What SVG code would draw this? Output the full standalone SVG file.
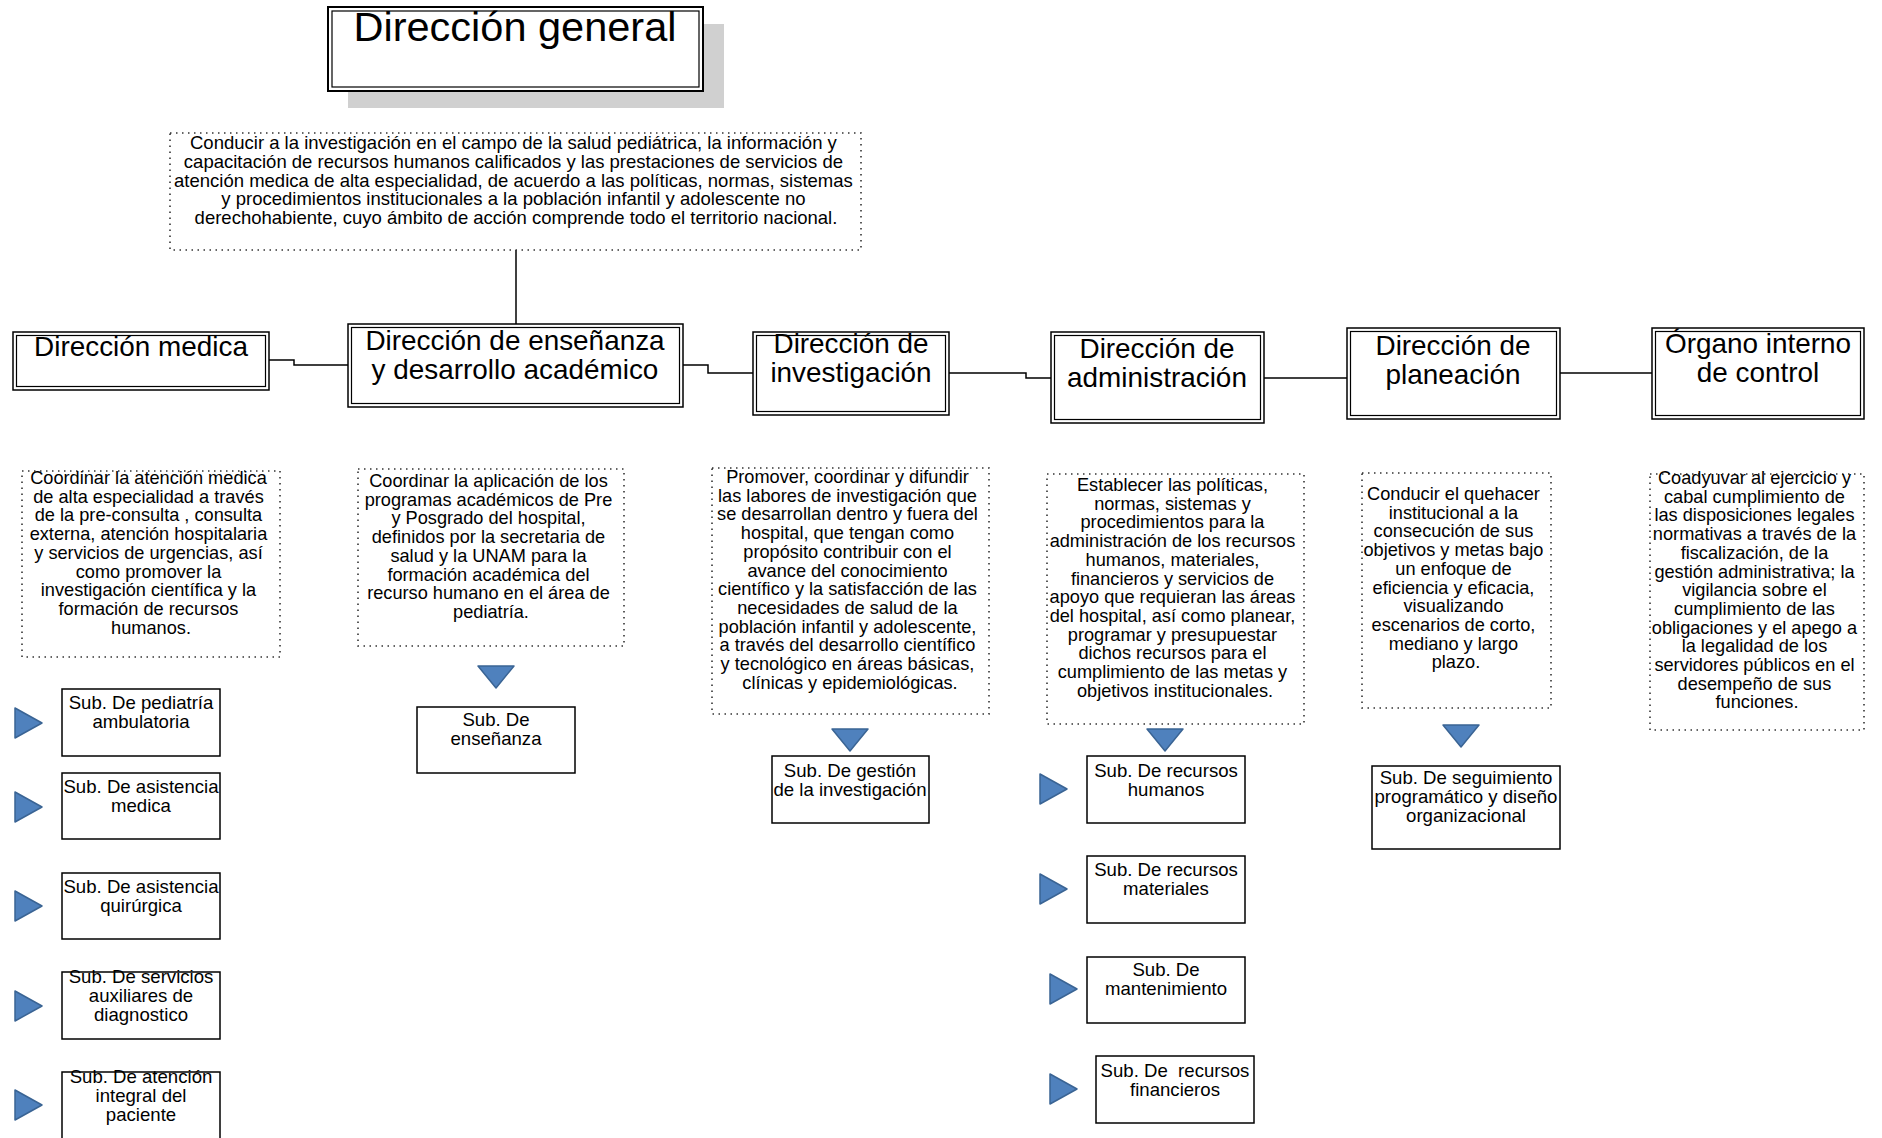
<svg xmlns="http://www.w3.org/2000/svg" width="1882" height="1138" viewBox="0 0 1882 1138">
  <defs>
    <style>
      .bg { fill: #ffffff; }
      .box { fill: #ffffff; stroke: #000000; stroke-width: 1.5; }
      .inner { fill: none; stroke: #000000; stroke-width: 1.2; }
      .sub { fill: #ffffff; stroke: #000000; stroke-width: 1.5; }
      .dot { fill: #ffffff; stroke: #333333; stroke-width: 1.6; stroke-dasharray: 1.5 4.5; }
      .shadow { fill: #d0d0d0; }
      .conn { fill: none; stroke: #000000; stroke-width: 1.5; }
      .tri { fill: #4f81bd; stroke: #3a6494; stroke-width: 1.5; stroke-linejoin: round; }
      text { font-family: "Liberation Sans", Arial, sans-serif; fill: #000000; text-anchor: middle; }
      .t-main { font-size: 41.5px; }
      .t-dir { font-size: 27.9px; }
      .t-top { font-size: 18.5px; }
      .t-desc { font-size: 18.2px; }
      .t-sub { font-size: 18.6px; }
    </style>
  </defs>

  <rect class="bg" x="0" y="0" width="1882" height="1138"/>

  <!-- connectors -->
  <g id="connectors">
    <path class="conn" d="M516 250 V324"/>
    <path class="conn" d="M269 360 H294 V365 H348"/>
    <path class="conn" d="M683 365 H708 V373 H753"/>
    <path class="conn" d="M949 373 H1026 V378 H1051"/>
    <path class="conn" d="M1264 378 H1347"/>
    <path class="conn" d="M1560 373 H1652"/>
  </g>

  <!-- top level -->
  <g id="direccion-general">
    <rect class="shadow" x="348" y="24" width="376" height="84"/>
    <rect class="box" x="328" y="7" width="375" height="84" style="stroke-width:2"/>
    <rect class="inner" x="332" y="11" width="367" height="76"/>
    <text class="t-main" x="515" y="41">Dirección general</text>
  </g>

  <g id="mision-general">
    <rect class="dot" x="170" y="133" width="691" height="117"/>
    <text class="t-top" x="516" y="149">
      <tspan x="516">Conducir a la investigación en el campo de la salud pediátrica, la información y</tspan>
      <tspan x="516" dy="18.75">capacitación de recursos humanos calificados y las prestaciones de servicios de</tspan>
      <tspan x="516" dy="18.75">atención medica de alta especialidad, de acuerdo a las políticas, normas, sistemas</tspan>
      <tspan x="516" dy="18.75">y procedimientos institucionales a la población infantil y adolescente no</tspan>
      <tspan x="516" dy="18.75">derechohabiente, cuyo ámbito de acción comprende todo el territorio nacional.</tspan>
    </text>
  </g>

  <!-- Dirección medica -->
  <g id="direccion-medica">
    <rect class="box" x="13" y="332" width="256" height="58"/>
    <rect class="inner" x="16.5" y="335.5" width="249" height="51"/>
    <text class="t-dir" x="141" y="356">Dirección medica</text>
  </g>
  <g id="desc-medica">
    <rect class="dot" x="22" y="471" width="258" height="186"/>
    <text class="t-desc" x="151" y="484">
      <tspan x="151">Coordinar la atención medica</tspan>
      <tspan x="151" dy="18.7">de alta especialidad a través</tspan>
      <tspan x="151" dy="18.7">de la pre-consulta , consulta</tspan>
      <tspan x="151" dy="18.7">externa, atención hospitalaria</tspan>
      <tspan x="151" dy="18.7">y servicios de urgencias, así</tspan>
      <tspan x="151" dy="18.7">como promover la</tspan>
      <tspan x="151" dy="18.7">investigación científica y la</tspan>
      <tspan x="151" dy="18.7">formación de recursos</tspan>
      <tspan x="151" dy="18.7">humanos.</tspan>
    </text>
  </g>
  <g id="sub-pediatria">
    <polygon class="tri" points="15,708 42,723 15,738"/>
    <rect class="sub" x="62" y="689" width="158" height="67"/>
    <text class="t-sub" x="141" y="709"><tspan x="141">Sub. De pediatría</tspan><tspan x="141" dy="19.2">ambulatoria</tspan></text>
  </g>
  <g id="sub-asistencia-medica">
    <polygon class="tri" points="15,792 42,807 15,822"/>
    <rect class="sub" x="62" y="773" width="158" height="66"/>
    <text class="t-sub" x="141" y="793"><tspan x="141">Sub. De asistencia</tspan><tspan x="141" dy="19.2">medica</tspan></text>
  </g>
  <g id="sub-asistencia-quirurgica">
    <polygon class="tri" points="15,891 42,906 15,921"/>
    <rect class="sub" x="62" y="873" width="158" height="66"/>
    <text class="t-sub" x="141" y="893"><tspan x="141">Sub. De asistencia</tspan><tspan x="141" dy="19.2">quirúrgica</tspan></text>
  </g>
  <g id="sub-servicios-auxiliares">
    <polygon class="tri" points="15,991 42,1006 15,1021"/>
    <rect class="sub" x="62" y="972" width="158" height="67"/>
    <text class="t-sub" x="141" y="983"><tspan x="141">Sub. De servicios</tspan><tspan x="141" dy="19.2">auxiliares de</tspan><tspan x="141" dy="19.2">diagnostico</tspan></text>
  </g>
  <g id="sub-atencion-integral">
    <polygon class="tri" points="15,1090 42,1105 15,1120"/>
    <rect class="sub" x="62" y="1072" width="158" height="80"/>
    <text class="t-sub" x="141" y="1083"><tspan x="141">Sub. De atención</tspan><tspan x="141" dy="19.2">integral del</tspan><tspan x="141" dy="19.2">paciente</tspan></text>
  </g>

  <!-- Dirección de enseñanza -->
  <g id="direccion-ensenanza">
    <rect class="box" x="348" y="324" width="335" height="83"/>
    <rect class="inner" x="351.5" y="327.5" width="328" height="76"/>
    <text class="t-dir" x="515" y="350"><tspan x="515">Dirección de enseñanza</tspan><tspan x="515" dy="29">y desarrollo académico</tspan></text>
  </g>
  <g id="desc-ensenanza">
    <rect class="dot" x="358" y="469" width="266" height="177"/>
    <text class="t-desc" x="491" y="487">
      <tspan x="491">Coordinar la aplicación de los</tspan>
      <tspan x="491" dy="18.7">programas académicos de Pre</tspan>
      <tspan x="491" dy="18.7">y Posgrado del hospital,</tspan>
      <tspan x="491" dy="18.7">definidos por la secretaria de</tspan>
      <tspan x="491" dy="18.7">salud y la UNAM para la</tspan>
      <tspan x="491" dy="18.7">formación académica del</tspan>
      <tspan x="491" dy="18.7">recurso humano en el área de</tspan>
      <tspan x="491" dy="18.7">pediatría.</tspan>
    </text>
  </g>
  <g id="sub-ensenanza">
    <polygon class="tri" points="478,666 514,666 496,688"/>
    <rect class="sub" x="417" y="707" width="158" height="66"/>
    <text class="t-sub" x="496" y="726"><tspan x="496">Sub. De</tspan><tspan x="496" dy="19.2">enseñanza</tspan></text>
  </g>

  <!-- Dirección de investigación -->
  <g id="direccion-investigacion">
    <rect class="box" x="753" y="332" width="196" height="83"/>
    <rect class="inner" x="756.5" y="335.5" width="189" height="76"/>
    <text class="t-dir" x="851" y="353"><tspan x="851">Dirección de</tspan><tspan x="851" dy="29">investigación</tspan></text>
  </g>
  <g id="desc-investigacion">
    <rect class="dot" x="712" y="468" width="277" height="246"/>
    <text class="t-desc" x="850" y="483">
      <tspan x="850">Promover, coordinar y difundir</tspan>
      <tspan x="850" dy="18.7">las labores de investigación que</tspan>
      <tspan x="850" dy="18.7">se desarrollan dentro y fuera del</tspan>
      <tspan x="850" dy="18.7">hospital, que tengan como</tspan>
      <tspan x="850" dy="18.7">propósito contribuir con el</tspan>
      <tspan x="850" dy="18.7">avance del conocimiento</tspan>
      <tspan x="850" dy="18.7">científico y la satisfacción de las</tspan>
      <tspan x="850" dy="18.7">necesidades de salud de la</tspan>
      <tspan x="850" dy="18.7">población infantil y adolescente,</tspan>
      <tspan x="850" dy="18.7">a través del desarrollo científico</tspan>
      <tspan x="850" dy="18.7">y tecnológico en áreas básicas,</tspan>
      <tspan x="850" dy="18.7">clínicas y epidemiológicas.</tspan>
    </text>
  </g>
  <g id="sub-gestion-investigacion">
    <polygon class="tri" points="832,729 868,729 850,751"/>
    <rect class="sub" x="772" y="756" width="157" height="67"/>
    <text class="t-sub" x="850" y="777"><tspan x="850">Sub. De gestión</tspan><tspan x="850" dy="19.2">de la investigación</tspan></text>
  </g>

  <!-- Dirección de administración -->
  <g id="direccion-administracion">
    <rect class="box" x="1051" y="332" width="213" height="91"/>
    <rect class="inner" x="1054.5" y="335.5" width="206" height="84"/>
    <text class="t-dir" x="1157" y="358"><tspan x="1157">Dirección de</tspan><tspan x="1157" dy="29">administración</tspan></text>
  </g>
  <g id="desc-administracion">
    <rect class="dot" x="1047" y="474" width="257" height="250"/>
    <text class="t-desc" x="1175" y="491">
      <tspan x="1175">Establecer las políticas,</tspan>
      <tspan x="1175" dy="18.7">normas, sistemas y</tspan>
      <tspan x="1175" dy="18.7">procedimientos para la</tspan>
      <tspan x="1175" dy="18.7">administración de los recursos</tspan>
      <tspan x="1175" dy="18.7">humanos, materiales,</tspan>
      <tspan x="1175" dy="18.7">financieros y servicios de</tspan>
      <tspan x="1175" dy="18.7">apoyo que requieran las áreas</tspan>
      <tspan x="1175" dy="18.7">del hospital, así como planear,</tspan>
      <tspan x="1175" dy="18.7">programar y presupuestar</tspan>
      <tspan x="1175" dy="18.7">dichos recursos para el</tspan>
      <tspan x="1175" dy="18.7">cumplimiento de las metas y</tspan>
      <tspan x="1175" dy="18.7">objetivos institucionales.</tspan>
    </text>
  </g>
  <g id="flecha-administracion">
    <polygon class="tri" points="1147,729 1183,729 1165,751"/>
  </g>
  <g id="sub-recursos-humanos">
    <polygon class="tri" points="1040,774 1067,789 1040,804"/>
    <rect class="sub" x="1087" y="756" width="158" height="67"/>
    <text class="t-sub" x="1166" y="777"><tspan x="1166">Sub. De recursos</tspan><tspan x="1166" dy="19.2">humanos</tspan></text>
  </g>
  <g id="sub-recursos-materiales">
    <polygon class="tri" points="1040,874 1067,889 1040,904"/>
    <rect class="sub" x="1087" y="856" width="158" height="67"/>
    <text class="t-sub" x="1166" y="876"><tspan x="1166">Sub. De recursos</tspan><tspan x="1166" dy="19.2">materiales</tspan></text>
  </g>
  <g id="sub-mantenimiento">
    <polygon class="tri" points="1050,974 1077,989 1050,1004"/>
    <rect class="sub" x="1087" y="957" width="158" height="66"/>
    <text class="t-sub" x="1166" y="976"><tspan x="1166">Sub. De</tspan><tspan x="1166" dy="19.2">mantenimiento</tspan></text>
  </g>
  <g id="sub-recursos-financieros">
    <polygon class="tri" points="1050,1074 1077,1089 1050,1104"/>
    <rect class="sub" x="1096" y="1056" width="158" height="67"/>
    <text class="t-sub" x="1175" y="1077" style="white-space:pre"><tspan x="1175">Sub. De  recursos</tspan><tspan x="1175" dy="19.2">financieros</tspan></text>
  </g>

  <!-- Dirección de planeación -->
  <g id="direccion-planeacion">
    <rect class="box" x="1347" y="328" width="213" height="91"/>
    <rect class="inner" x="1350.5" y="331.5" width="206" height="84"/>
    <text class="t-dir" x="1453" y="355"><tspan x="1453">Dirección de</tspan><tspan x="1453" dy="29">planeación</tspan></text>
  </g>
  <g id="desc-planeacion">
    <rect class="dot" x="1362" y="473" width="189" height="235"/>
    <text class="t-desc" x="1456" y="500">
      <tspan x="1456">Conducir el quehacer</tspan>
      <tspan x="1456" dy="18.7">institucional a la</tspan>
      <tspan x="1456" dy="18.7">consecución de sus</tspan>
      <tspan x="1456" dy="18.7">objetivos y metas bajo</tspan>
      <tspan x="1456" dy="18.7">un enfoque de</tspan>
      <tspan x="1456" dy="18.7">eficiencia y eficacia,</tspan>
      <tspan x="1456" dy="18.7">visualizando</tspan>
      <tspan x="1456" dy="18.7">escenarios de corto,</tspan>
      <tspan x="1456" dy="18.7">mediano y largo</tspan>
      <tspan x="1456" dy="18.7">plazo.</tspan>
    </text>
  </g>
  <g id="sub-seguimiento">
    <polygon class="tri" points="1443,725 1479,725 1461,747"/>
    <rect class="sub" x="1372" y="766" width="188" height="83"/>
    <text class="t-sub" x="1466" y="784"><tspan x="1466">Sub. De seguimiento</tspan><tspan x="1466" dy="19.2">programático y diseño</tspan><tspan x="1466" dy="19.2">organizacional</tspan></text>
  </g>

  <!-- Órgano interno de control -->
  <g id="organo-interno">
    <rect class="box" x="1652" y="328" width="212" height="91"/>
    <rect class="inner" x="1655.5" y="331.5" width="205" height="84"/>
    <text class="t-dir" x="1758" y="353"><tspan x="1758">Órgano interno</tspan><tspan x="1758" dy="29">de control</tspan></text>
  </g>
  <g id="desc-organo">
    <rect class="dot" x="1650" y="474" width="214" height="256"/>
    <text class="t-desc" x="1757" y="484">
      <tspan x="1757">Coadyuvar al ejercicio y</tspan>
      <tspan x="1757" dy="18.7">cabal cumplimiento de</tspan>
      <tspan x="1757" dy="18.7">las disposiciones legales</tspan>
      <tspan x="1757" dy="18.7">normativas a través de la</tspan>
      <tspan x="1757" dy="18.7">fiscalización, de la</tspan>
      <tspan x="1757" dy="18.7">gestión administrativa; la</tspan>
      <tspan x="1757" dy="18.7">vigilancia sobre el</tspan>
      <tspan x="1757" dy="18.7">cumplimiento de las</tspan>
      <tspan x="1757" dy="18.7">obligaciones y el apego a</tspan>
      <tspan x="1757" dy="18.7">la legalidad de los</tspan>
      <tspan x="1757" dy="18.7">servidores públicos en el</tspan>
      <tspan x="1757" dy="18.7">desempeño de sus</tspan>
      <tspan x="1757" dy="18.7">funciones.</tspan>
    </text>
  </g>
</svg>
